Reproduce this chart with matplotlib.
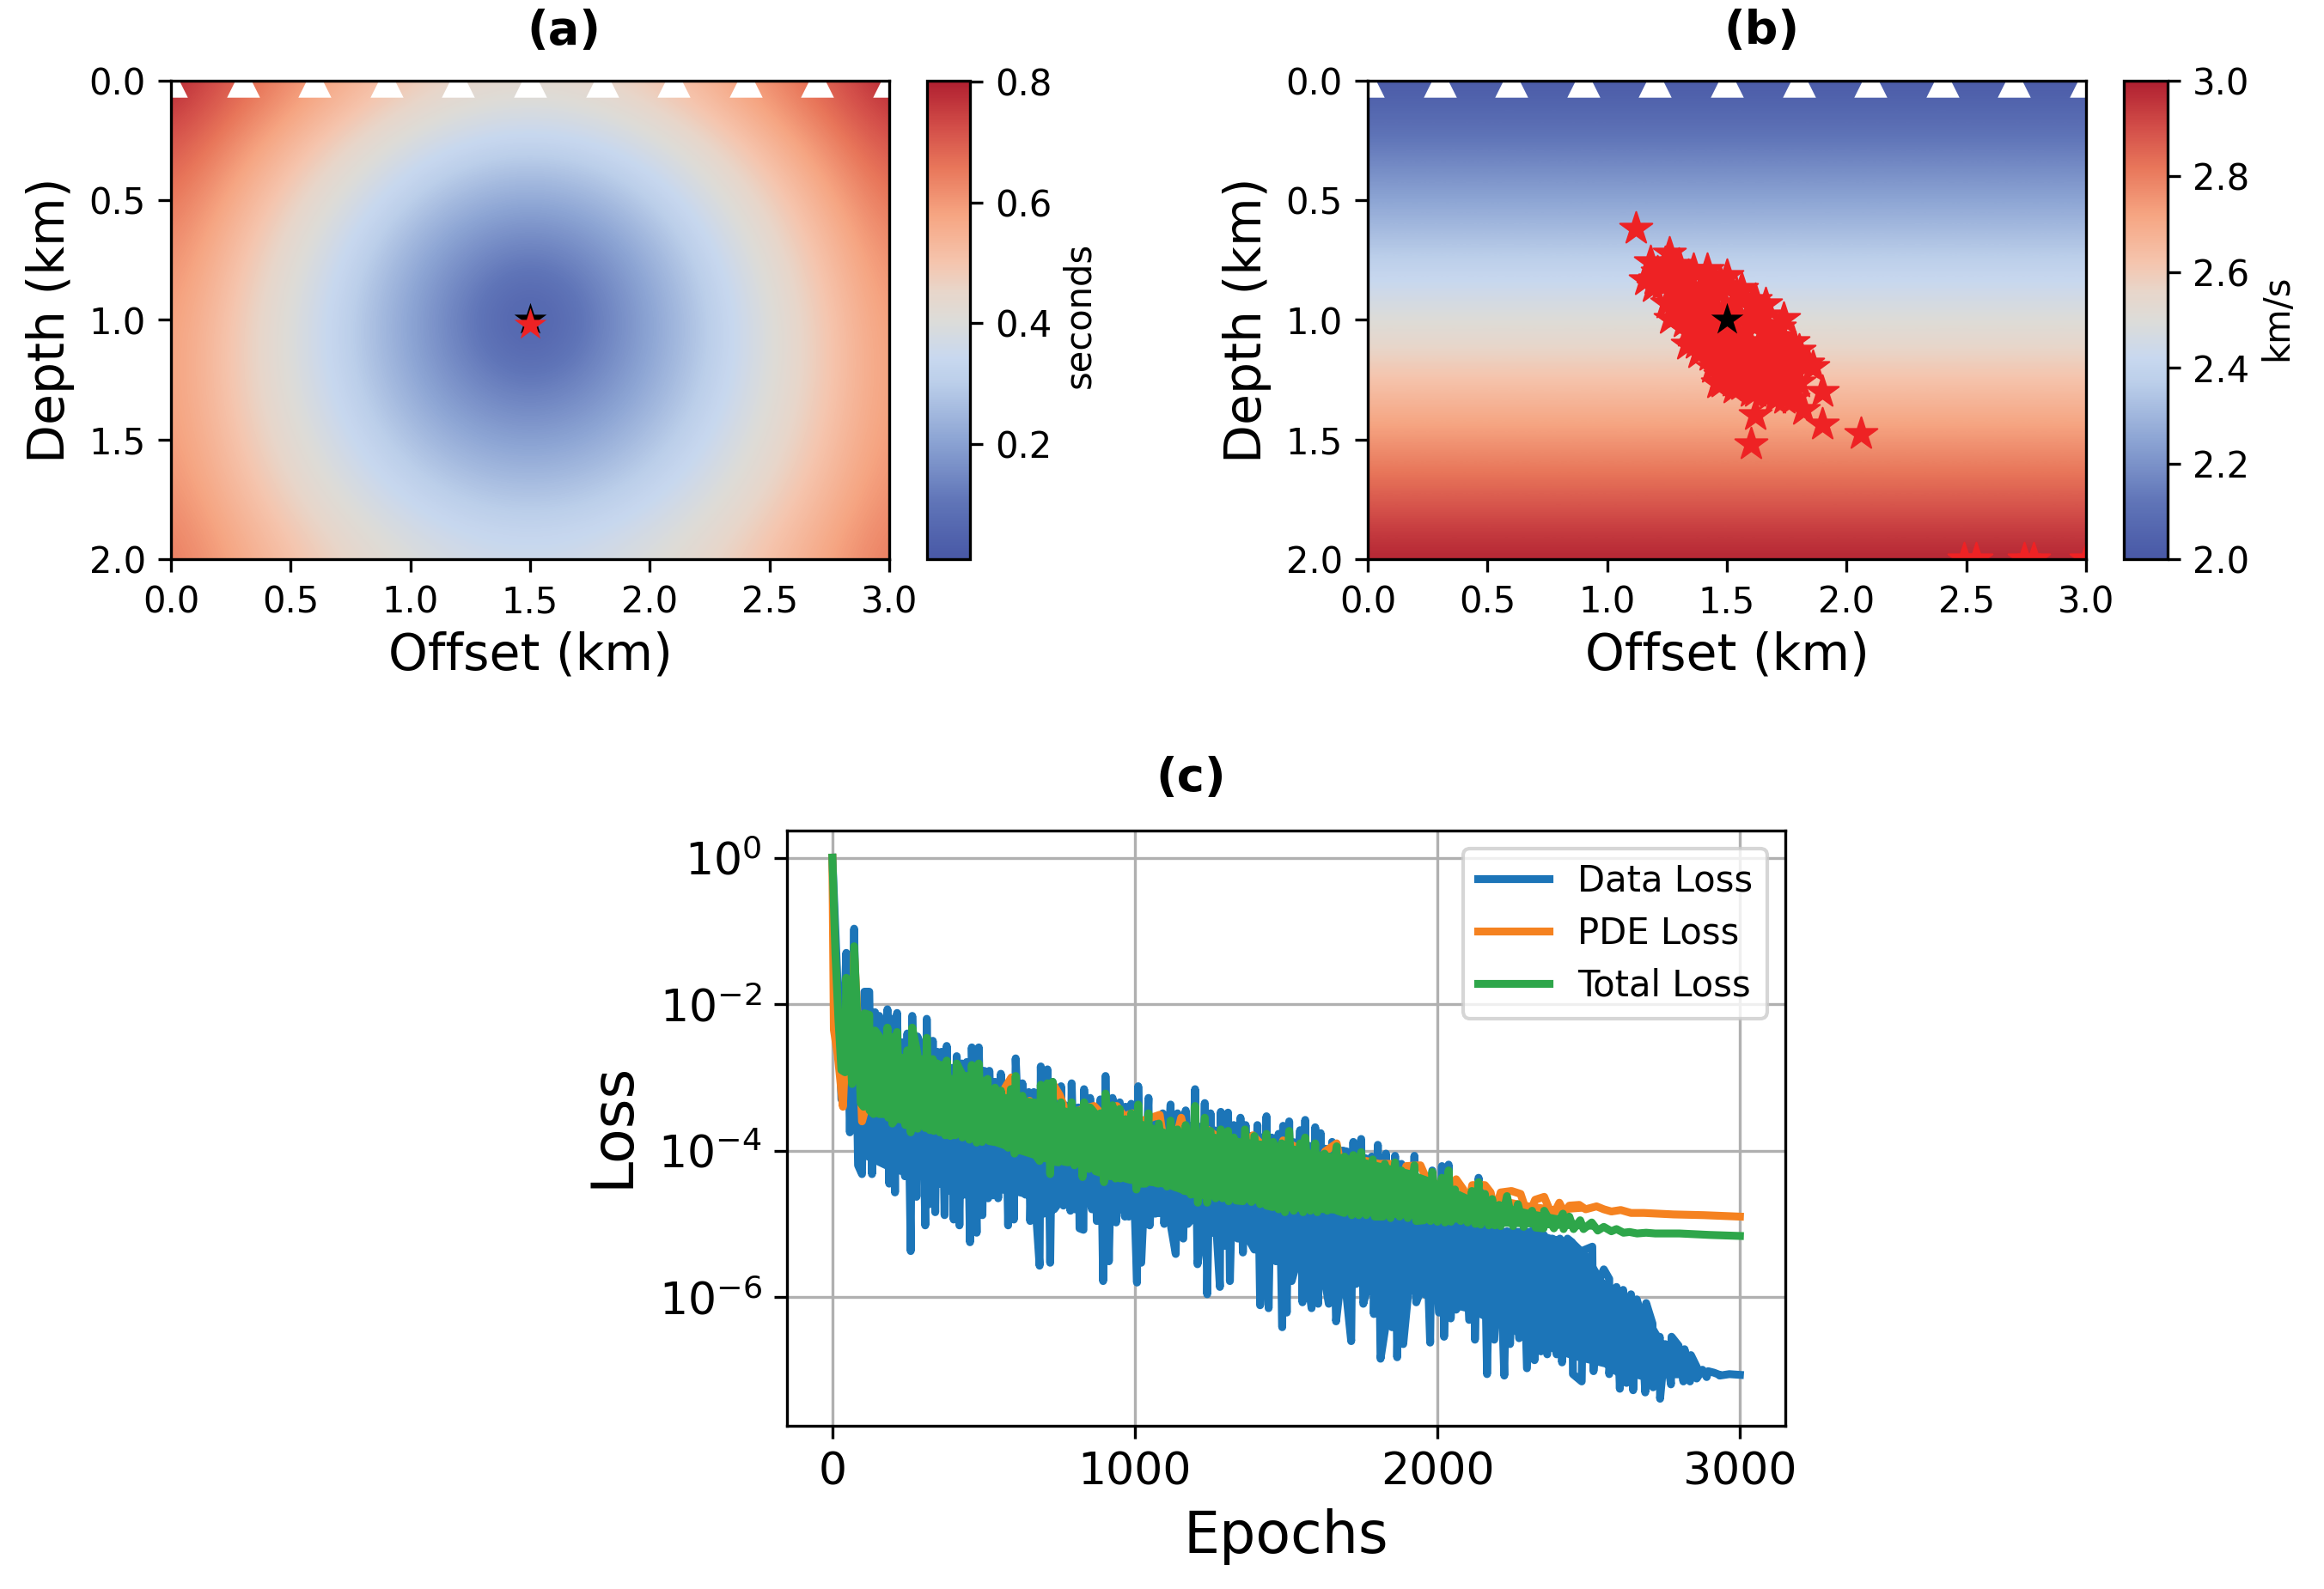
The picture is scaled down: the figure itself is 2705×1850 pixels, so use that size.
import numpy as np
import matplotlib
matplotlib.use('Agg')
import matplotlib.pyplot as plt
from matplotlib.colors import LinearSegmentedColormap

# travel time (s), left half of the model, z = 0 ... 2 km every 0.25 km
# columns are x = 0 ... 1.5 km every 0.25 km, right half mirrors it
traveltime_left = [
    [0.801, 0.712, 0.630, 0.557, 0.499, 0.460, 0.446],
    [0.724, 0.630, 0.540, 0.459, 0.390, 0.342, 0.324],
    [0.664, 0.566, 0.470, 0.380, 0.298, 0.236, 0.211],
    [0.622, 0.522, 0.423, 0.325, 0.229, 0.145, 0.103],
    [0.598, 0.499, 0.399, 0.300, 0.200, 0.100, 0.010],
    [0.592, 0.497, 0.402, 0.309, 0.218, 0.138, 0.098],
    [0.601, 0.512, 0.426, 0.344, 0.270, 0.213, 0.191],
    [0.623, 0.542, 0.465, 0.395, 0.336, 0.295, 0.280],
    [0.655, 0.583, 0.515, 0.455, 0.408, 0.376, 0.365],
]
# velocity (km/s) from panel b, same depth samples
velocity = [2.0, 2.125, 2.25, 2.375, 2.5, 2.625, 2.75, 2.875, 3.0]

receiver_x = [0.0, 0.3, 0.6, 0.9, 1.2, 1.5, 1.8, 2.1, 2.4, 2.7, 3.0]
receiver_z = [0.0] * 11

true_x = [1.5]
true_z = [1.0]
picked_a_x = [1.5]
picked_a_z = [1.018]

# inverted source locations in panel b
inverted_x = [
    1.12, 1.618, 1.599, 1.90, 2.059, 1.90, 1.818, 1.86,
    2.49, 2.54, 2.74, 2.78, 3.0,
    1.26, 1.18, 1.16, 1.24, 1.30, 1.36, 1.417, 1.50, 1.56, 1.618, 1.66, 1.738, 1.776, 1.80, 1.836,
    1.19, 1.262, 1.25, 1.334, 1.382, 1.459, 1.525, 1.597, 1.68, 1.776,
    1.25, 1.32, 1.40, 1.47, 1.53, 1.60, 1.66, 1.72, 1.75, 1.78, 1.80,
    1.27, 1.33, 1.40, 1.46, 1.52, 1.58, 1.64, 1.69, 1.72, 1.74,
    1.30, 1.36, 1.42, 1.48, 1.54, 1.60, 1.65, 1.68,
    1.34, 1.40, 1.46, 1.52, 1.57, 1.62,
    1.44, 1.50, 1.56, 1.48,
    1.23, 1.30, 1.365, 1.43, 1.49, 1.55, 1.61, 1.67, 1.71, 1.735, 1.76,
    1.28, 1.345, 1.41, 1.47, 1.53, 1.59, 1.645, 1.69, 1.71, 1.73,
    1.32, 1.38, 1.44, 1.50, 1.56, 1.61, 1.65, 1.66,
    1.37, 1.43, 1.49, 1.54, 1.60, 1.62,
    1.28, 1.34, 1.41, 1.47, 1.54, 1.60, 1.655, 1.72,
    1.21, 1.20, 1.27, 1.47, 1.53, 1.60, 1.70, 1.74, 1.76,
]
inverted_z = [
    0.618, 1.397, 1.518, 1.437, 1.476, 1.299, 1.377, 1.197,
    2.0, 2.0, 2.0, 2.0, 2.0,
    0.72, 0.757, 0.832, 0.76, 0.77, 0.79, 0.79, 0.814, 0.87, 0.916, 0.934, 0.994, 1.09, 1.126, 1.18,
    0.86, 0.994, 0.93, 1.102, 1.138, 1.263, 1.257, 1.275, 1.311, 1.33,
    0.82, 0.84, 0.86, 0.88, 0.93, 0.98, 1.02, 1.07, 1.14, 1.20, 1.26,
    0.88, 0.92, 0.95, 0.97, 1.02, 1.05, 1.09, 1.14, 1.20, 1.26,
    0.97, 1.00, 1.03, 1.07, 1.11, 1.15, 1.20, 1.26,
    1.05, 1.09, 1.13, 1.17, 1.21, 1.25,
    1.20, 1.22, 1.27, 1.26,
    0.85, 0.88, 0.905, 0.915, 0.95, 0.985, 1.02, 1.06, 1.12, 1.17, 1.23,
    0.93, 0.96, 0.99, 1.02, 1.065, 1.10, 1.145, 1.19, 1.25, 1.30,
    1.01, 1.05, 1.08, 1.12, 1.16, 1.20, 1.26, 1.30,
    1.10, 1.15, 1.18, 1.22, 1.25, 1.30,
    0.78, 0.815, 0.82, 0.84, 0.89, 0.94, 0.98, 1.03,
    0.80, 0.83, 0.83, 1.23, 1.285, 1.30, 1.33, 1.33, 1.31,
]

# loss curves, log10 values: spike tips and spike bottoms kept apart
data_top_ep = [0, 46, 72, 106, 122, 141, 155, 182, 198, 214, 231, 248, 264, 281, 297, 312, 332, 347, 361, 378,
               394, 411, 428, 444, 461, 484, 502, 519, 538, 557, 573, 590, 606, 628, 649, 666, 689, 711, 728, 756,
               770, 791, 813, 832, 852, 868, 886, 903, 926, 950, 969, 988, 1011, 1045, 1068, 1092, 1118, 1141, 1168, 1199,
               1231, 1250, 1284, 1308, 1327, 1349, 1366, 1405, 1435, 1452, 1475, 1490, 1510, 1546, 1563, 1596, 1614, 1652, 1688, 1722,
               1748, 1783, 1803, 1830, 1860, 1881, 1924, 1958, 1983, 2015, 2037, 2060, 2090, 2120, 2136, 2155, 2175, 2205, 2230, 2255,
               2283, 2310, 2330, 2352, 2380, 2405, 2430, 2445, 2483, 2512, 2535, 2550, 2568, 2592, 2614, 2640, 2659, 2673, 2690, 2711,
               2735, 2753, 2774, 2797, 2817, 2838, 2857, 2876, 2895, 2914, 2933, 2965, 3000]
data_top = [0.0, -1.30, -0.97, -1.83, -1.83, -2.11, -2.16, -2.07, -2.20, -2.12, -2.52, -2.40, -2.16, -2.44, -2.61, -2.20, -2.50, -2.65, -2.65, -2.57,
            -2.87, -2.71, -2.81, -2.79, -2.59, -2.59, -2.91, -2.91, -3.06, -2.95, -3.14, -3.02, -2.74, -3.08, -3.20, -3.20, -2.85, -2.89, -3.06, -3.12,
            -3.38, -3.08, -3.41, -3.16, -3.28, -3.41, -3.30, -2.98, -3.28, -3.34, -3.40, -3.36, -3.12, -3.28, -3.55, -3.49, -3.37, -3.49, -3.45, -3.16,
            -3.35, -3.49, -3.47, -3.48, -3.65, -3.55, -3.65, -3.65, -3.53, -3.82, -3.77, -3.66, -3.60, -3.72, -3.58, -3.68, -3.76, -3.88, -4.00, -3.88,
            -3.84, -4.08, -3.92, -4.04, -4.07, -4.18, -4.07, -4.40, -4.27, -4.21, -4.19, -4.70, -4.80, -4.85, -4.37, -4.90, -5.00, -5.05, -5.10, -5.10,
            -5.10, -5.10, -5.10, -5.15, -5.20, -5.20, -5.20, -5.25, -5.36, -5.31, -5.76, -5.62, -5.75, -5.86, -5.90, -5.96, -6.03, -6.23, -6.08, -6.36,
            -6.54, -6.64, -6.54, -6.66, -6.71, -6.79, -6.95, -6.99, -7.01, -7.03, -7.06, -7.05, -7.06]
data_low_ep = [15, 30, 58, 85, 98, 131, 150, 169, 188, 207, 223, 240, 259, 278, 307, 321, 340, 355, 371, 386,
               401, 420, 436, 455, 477, 496, 515, 531, 548, 562, 581, 600, 623, 638, 654, 670, 685, 699, 720, 733,
               742, 764, 787, 802, 817, 830, 846, 858, 874, 895, 914, 938, 967, 980, 1007, 1021, 1049, 1068, 1097, 1120,
               1135, 1160, 1175, 1187, 1207, 1221, 1239, 1258, 1270, 1281, 1296, 1314, 1329, 1340, 1357, 1375, 1395, 1414, 1425, 1442,
               1466, 1487, 1502, 1518, 1530, 1554, 1570, 1584, 1606, 1625, 1641, 1665, 1679, 1695, 1715, 1731, 1755, 1770, 1790, 1812,
               1828, 1840, 1850, 1867, 1887, 1906, 1915, 1930, 1945, 1976, 2005, 2022, 2044, 2062, 2081, 2105, 2124, 2164, 2188, 2221,
               2240, 2270, 2296, 2321, 2342, 2363, 2394, 2412, 2448, 2477, 2516, 2568, 2603, 2625, 2647, 2687, 2713, 2736, 2772, 2813,
               2835, 2857, 2890, 2933, 2950]
data_low = [-1.5, -3.3, -3.75, -4.2, -4.32, -4.32, -4.06, -4.16, -4.45, -4.57, -4.26, -4.35, -5.37, -4.63, -5.02, -4.73, -4.84, -4.45, -4.88, -4.55,
            -4.94, -5.02, -4.60, -5.25, -5.12, -4.88, -4.65, -4.61, -4.65, -4.38, -5.02, -4.94, -4.41, -4.60, -4.96, -4.65, -5.57, -4.86, -5.53, -4.80,
            -4.75, -4.75, -4.82, -4.80, -5.06, -5.08, -4.63, -4.80, -4.96, -5.78, -5.51, -4.98, -4.90, -4.90, -5.80, -5.53, -5.02, -4.86, -5.00, -5.05,
            -5.41, -5.20, -5.00, -4.94, -5.55, -5.15, -5.96, -5.12, -5.10, -5.86, -5.30, -5.78, -5.12, -5.20, -5.39, -5.20, -5.35, -6.11, -5.30, -6.15,
            -5.51, -6.41, -6.21, -5.78, -5.60, -6.07, -5.70, -6.15, -6.09, -5.70, -6.09, -6.33, -5.82, -5.80, -6.60, -5.82, -6.09, -5.85, -6.23, -6.84,
            -6.41, -5.90, -6.41, -6.82, -6.64, -5.84, -5.90, -6.07, -5.90, -6.62, -6.21, -6.54, -6.29, -6.17, -6.04, -6.31, -6.58, -7.05, -6.58, -7.07,
            -6.64, -6.56, -6.97, -6.86, -6.74, -6.78, -6.78, -6.89, -7.05, -7.15, -7.01, -7.05, -7.25, -7.17, -7.27, -7.30, -7.23, -7.386, -7.19, -7.15,
            -7.15, -7.11, -7.09, -7.07, -7.06]

pde_top_ep = [0, 50, 72, 150, 230, 320, 410, 500, 571, 592, 652, 728, 751, 775, 813, 865, 879, 940, 964, 992,
              1026, 1082, 1153, 1239, 1265, 1390, 1419, 1490, 1527, 1629, 1667, 1764, 1807, 1845, 1897, 1944, 1960, 2001, 2062, 2086,
              2115, 2157, 2176, 2209, 2245, 2275, 2323, 2353, 2403, 2436, 2469, 2526, 2550, 2606, 2682, 2780, 2880, 3000]
pde_top = [0.0, -2.0, -1.3, -2.8, -2.9, -2.95, -3.0, -3.05, -3.14, -3.00, -3.32, -3.08, -3.24, -3.49, -3.45, -3.39, -3.45, -3.39, -3.53, -3.49,
           -3.59, -3.51, -3.55, -3.71, -3.79, -3.79, -3.92, -3.86, -3.94, -4.01, -3.90, -4.14, -4.18, -4.18, -4.21, -4.20, -4.35, -4.47, -4.39, -4.53,
           -4.47, -4.47, -4.57, -4.57, -4.55, -4.59, -4.67, -4.63, -4.71, -4.75, -4.74, -4.76, -4.80, -4.81, -4.85, -4.87, -4.88, -4.90]
pde_low_ep = [5, 18, 35, 62, 90, 98, 190, 275, 365, 455, 535, 620, 690, 800, 900, 1000, 1110, 1200, 1330, 1455,
              1580, 1700, 1870, 2030, 2100, 2190, 2300, 2380, 2420, 2490, 2575, 2640]
pde_low = [-2.35, -2.7, -3.4, -3.0, -2.7, -3.6, -3.4, -3.5, -3.6, -3.65, -3.7, -3.8, -3.9, -4.0, -4.1, -4.2, -4.3, -4.4, -4.5, -4.55,
           -4.6, -4.65, -4.7, -4.75, -4.8, -4.85, -4.9, -4.9, -4.85, -4.80, -4.83, -4.85]

total_top_ep = [0, 46, 72, 106, 122, 141, 155, 182, 198, 214, 231, 248, 264, 281, 297, 312, 332, 347, 361, 378,
                394, 411, 428, 444, 461, 484, 502, 513, 538, 557, 590, 606, 628, 649, 666, 689, 711, 728, 756, 791,
                813, 832, 852, 868, 886, 903, 926, 950, 969, 988, 1011, 1045, 1079, 1118, 1141, 1168, 1199, 1231, 1250, 1284,
                1308, 1327, 1364, 1395, 1435, 1457, 1485, 1510, 1546, 1563, 1596, 1627, 1667, 1693, 1722, 1748, 1786, 1826, 1860, 1881,
                1924, 1958, 1983, 2015, 2037, 2058, 2088, 2114, 2136, 2157, 2181, 2204, 2230, 2266, 2313, 2353, 2415, 2436, 2472, 2510,
                2550, 2592, 2635, 2690, 2800, 2900, 3000]
total_top = [0.0, -1.64, -1.21, -2.125, -2.145, -2.36, -2.44, -2.32, -2.45, -2.38, -2.73, -2.63, -2.32, -2.67, -2.75, -2.46, -2.75, -2.81, -2.83, -2.77,
             -3.02, -2.81, -2.95, -2.98, -2.83, -2.81, -3.06, -3.02, -3.14, -3.18, -3.16, -2.98, -3.25, -3.38, -3.38, -3.10, -3.08, -3.06, -3.34, -3.34,
             -3.45, -3.34, -3.41, -3.49, -3.49, -3.22, -3.38, -3.43, -3.57, -3.49, -3.37, -3.49, -3.63, -3.59, -3.71, -3.65, -3.39, -3.55, -3.73, -3.71,
             -3.73, -3.82, -3.71, -3.80, -3.77, -3.88, -3.90, -3.73, -3.90, -3.82, -3.90, -4.04, -3.94, -4.08, -4.06, -4.02, -4.12, -4.18, -4.16, -4.27,
             -4.20, -4.51, -4.29, -4.37, -4.27, -4.53, -4.64, -4.55, -4.43, -4.59, -4.66, -4.74, -4.62, -4.73, -4.82, -4.82, -4.86, -4.90, -4.95, -4.98,
             -5.04, -5.07, -5.11, -5.12, -5.13, -5.15, -5.164]
total_low_ep = [10, 20, 30, 42, 65, 94, 103, 123, 136, 155, 169, 185, 198, 212, 223, 241, 259, 282, 307, 322,
                335, 355, 373, 390, 406, 430, 453, 477, 495, 519, 535, 552, 567, 581, 602, 614, 628, 643, 657, 670,
                685, 702, 720, 733, 747, 765, 780, 800, 827, 848, 870, 885, 898, 918, 936, 952, 969, 987, 1005, 1022,
                1035, 1049, 1077, 1106, 1135, 1163, 1185, 1208, 1239, 1267, 1290, 1310, 1335, 1357, 1385, 1414, 1435, 1456, 1475, 1496,
                1525, 1556, 1580, 1603, 1636, 1669, 1692, 1717, 1740, 1765, 1793, 1820, 1845, 1875, 1902, 1930, 1955, 1977, 2000, 2025,
                2045, 2077, 2100, 2125, 2143, 2170, 2190, 2209, 2250, 2285, 2325, 2351, 2385, 2417, 2450, 2483, 2530, 2575, 2615, 2660,
                2720]
total_low = [-1.3, -2.2, -2.9, -2.93, -3.09, -3.35, -3.40, -3.45, -3.50, -3.50, -3.50, -3.55, -3.63, -3.55, -3.55, -3.65, -3.75, -3.70, -3.69, -3.72,
             -3.73, -3.75, -3.79, -3.80, -3.79, -3.82, -3.85, -3.89, -3.88, -3.87, -3.88, -3.87, -3.90, -3.96, -4.04, -4.00, -4.00, -4.00, -4.02, -4.05,
             -4.14, -4.10, -4.32, -4.15, -4.16, -4.15, -4.16, -4.20, -4.36, -4.25, -4.28, -4.30, -4.43, -4.35, -4.38, -4.38, -4.38, -4.40, -4.53, -4.45,
             -4.45, -4.41, -4.45, -4.49, -4.50, -4.55, -4.60, -4.71, -4.71, -4.65, -4.65, -4.69, -4.68, -4.69, -4.70, -4.73, -4.75, -4.77, -4.80, -4.84,
             -4.82, -4.84, -4.82, -4.84, -4.82, -4.82, -4.85, -4.88, -4.88, -4.88, -4.90, -4.90, -4.92, -4.90, -4.92, -4.96, -4.95, -4.96, -4.97, -4.98,
             -4.97, -4.96, -4.98, -5.00, -5.01, -5.02, -5.02, -5.03, -5.03, -5.04, -5.05, -5.06, -5.06, -5.07, -5.07, -5.07, -5.09, -5.10, -5.12, -5.13,
             -5.13]

# solid part of each dense curve, where the spikes run together
data_band_ep = [100, 200, 300, 400, 500, 600, 700, 800, 900, 1000, 1100, 1200, 1300, 1400, 1500, 1600, 1700, 1800, 1900, 2000,
                2100, 2200, 2300, 2380, 2450, 2500, 2550, 2600, 2650, 2700, 2750, 2800, 2850, 2900, 2950]
data_band_hi = [-2.3, -2.5, -2.75, -2.95, -3.1, -3.2, -3.25, -3.4, -3.45, -3.5, -3.6, -3.6, -3.7, -3.75, -3.8, -3.9, -3.95, -4.1, -4.2, -4.5,
                -4.95, -5.05, -5.05, -5.15, -5.2, -5.4, -5.75, -5.88, -6.0, -6.25, -6.6, -6.68, -6.9, -7.0, -7.05]
data_band_lo = [-4.1, -4.3, -4.4, -4.5, -4.55, -4.6, -4.7, -4.75, -4.8, -4.9, -4.9, -5.0, -5.1, -5.2, -5.4, -5.6, -5.7, -5.8, -5.9, -6.1,
                -6.2, -6.4, -6.6, -6.75, -6.85, -6.9, -6.95, -7.1, -7.1, -7.15, -7.1, -7.1, -7.08, -7.06, -7.06]
pde_band_ep = [2000, 2100, 2200, 2300, 2400, 2500]
pde_band_hi = [-4.55, -4.55, -4.62, -4.7, -4.76, -4.78]
pde_band_lo = [-4.9, -4.9, -4.9, -4.9, -4.85, -4.82]
total_band_ep = [100, 200, 300, 400, 500, 600, 700, 800, 900, 1000, 1100, 1200, 1300, 1400, 1500, 1600, 1700, 1800, 1900, 2000,
                 2100, 2200, 2300, 2400, 2500, 2600, 2700]
total_band_hi = [-2.4, -2.6, -2.85, -3.0, -3.15, -3.25, -3.3, -3.45, -3.5, -3.55, -3.7, -3.7, -3.8, -3.85, -3.9, -4.0, -4.05, -4.15, -4.25, -4.4,
                 -4.6, -4.7, -4.8, -4.88, -5.0, -5.07, -5.12]
total_band_lo = [-3.42, -3.6, -3.7, -3.8, -3.88, -4.02, -4.15, -4.2, -4.35, -4.45, -4.5, -4.65, -4.67, -4.72, -4.82, -4.84, -4.86, -4.9, -4.92, -4.97,
                 -4.98, -5.03, -5.04, -5.06, -5.07, -5.1, -5.13]

FIG_W = 2705
FIG_H = 1850
RED = '#EE2224'
BLUE = '#1C75B8'
ORANGE = '#F58220'
GREEN = '#2EA64A'


def px_axes(fig, left, top, right, bottom):
    # axes placed from pixel edges of the image
    return fig.add_axes([left / FIG_W, 1 - bottom / FIG_H, (right - left) / FIG_W, (bottom - top) / FIG_H])


def merged(top_ep, top, low_ep, low):
    # tips and bottoms back into one curve, in epoch order
    ep = np.array(top_ep + low_ep)
    val = np.array(top + low)
    order = np.argsort(ep, kind='stable')
    return ep[order], 10.0 ** val[order]


def band(ax, ep, hi, lo, color, zorder):
    ax.fill_between(ep, 10.0 ** np.array(lo), 10.0 ** np.array(hi), color=color, linewidth=0, zorder=zorder)


def field_panel(fig, field, vmin, vmax, edges, cbar_edges, ticks, cbar_label, label_y, cmap):
    ax = px_axes(fig, *edges)
    im = ax.imshow(field, cmap=cmap, vmin=vmin, vmax=vmax, aspect='auto', interpolation='bicubic',
                   extent=[-0.125 if field.shape[1] > 1 else 0, 3.125 if field.shape[1] > 1 else 3, 2.125, -0.125])
    ax.scatter(receiver_x, receiver_z, marker='^', s=85, color='white', linewidths=0)
    ax.set_xlim(0, 3)
    ax.set_ylim(2, 0)
    ax.set_xticks([0, 0.5, 1, 1.5, 2, 2.5, 3])
    ax.set_yticks([0, 0.5, 1, 1.5, 2])
    ax.tick_params(labelsize=10)
    ax.set_xlabel('Offset (km)', fontsize=14, labelpad=3)
    ax.set_ylabel('Depth (km)', fontsize=14)
    cax = px_axes(fig, *cbar_edges)
    cb = fig.colorbar(im, cax=cax)
    cb.set_ticks(ticks)
    cb.ax.tick_params(labelsize=10)
    cb.set_label(cbar_label, fontsize=10, y=label_y, labelpad=2.5)
    return ax


def main():
    plt.rcParams['font.family'] = ['DejaVu Sans']
    # coolwarm as it appears in the printed figure
    cmap = LinearSegmentedColormap.from_list('print_coolwarm', [
        (0.00, '#4858A6'), (0.12, '#6075B8'), (0.25, '#8DA5D4'), (0.37, '#BCCFEA'), (0.42, '#C8D8EF'),
        (0.50, '#DDDCD8'), (0.56, '#E8D6CA'), (0.62, '#F5C5AE'), (0.72, '#F6A582'), (0.82, '#E8765A'),
        (0.90, '#D4504A'), (1.00, '#B01F30')])

    fig = plt.figure(figsize=(FIG_W / 300, FIG_H / 300), dpi=300)

    left = np.array(traveltime_left)
    tt = np.hstack([left, left[:, -2::-1]])
    ax = field_panel(fig, tt, 0.01, 0.801, (199, 94, 1035, 651), (1079, 94, 1129, 651),
                     [0.2, 0.4, 0.6, 0.8], 'seconds', 0.51, cmap)
    ax.scatter(true_x, true_z, marker='*', s=90, color='black', linewidths=0)
    ax.scatter(picked_a_x, picked_a_z, marker='*', s=90, color=RED, linewidths=0)

    vel = np.array(velocity).reshape(-1, 1)
    ax = field_panel(fig, vel, 2.0, 3.0, (1592, 94, 2428, 651), (2472, 94, 2523, 651),
                     [2.0, 2.2, 2.4, 2.6, 2.8, 3.0], 'km/s', 0.505, cmap)
    # thin edge closes the specks left between overlapping stars
    ax.scatter(inverted_x, inverted_z, marker='*', s=90, color=RED, edgecolors=RED, linewidths=0.5)
    ax.scatter(true_x, true_z, marker='*', s=90, color='black', linewidths=0)

    ax = px_axes(fig, 916, 967, 2078, 1660)
    band(ax, data_band_ep, data_band_hi, data_band_lo, BLUE, 2)
    ax.semilogy(*merged(data_top_ep, data_top, data_low_ep, data_low), color=BLUE, lw=2.2, label='Data Loss', zorder=2)
    band(ax, pde_band_ep, pde_band_hi, pde_band_lo, ORANGE, 2.1)
    ax.semilogy(*merged(pde_top_ep, pde_top, pde_low_ep, pde_low), color=ORANGE, lw=2.2, label='PDE Loss', zorder=2.1)
    band(ax, total_band_ep, total_band_hi, total_band_lo, GREEN, 2.2)
    ax.semilogy(*merged(total_top_ep, total_top, total_low_ep, total_low), color=GREEN, lw=2.2, label='Total Loss', zorder=2.2)
    ax.set_yticks([1, 1e-2, 1e-4, 1e-6])
    ax.minorticks_off()
    ax.set_xticks([0, 1000, 2000, 3000])
    ax.tick_params(labelsize=12.5)
    ax.set_xlabel('Epochs', fontsize=16)
    ax.set_ylabel('Loss', fontsize=16, y=0.505, labelpad=5)
    ax.grid(True)
    ax.legend(fontsize=10, loc='upper right', labelspacing=0.46)

    # panel letters sit over the panel plus its colour bar
    fig.text(656 / FIG_W, 1 - 36 / FIG_H, '(a)', fontsize=13, fontweight='bold', ha='center', va='center')
    fig.text(2050 / FIG_W, 1 - 36 / FIG_H, '(b)', fontsize=13, fontweight='bold', ha='center', va='center')
    fig.text(1386 / FIG_W, 1 - 906 / FIG_H, '(c)', fontsize=13, fontweight='bold', ha='center', va='center')

    fig.savefig('out.png', dpi=300)


if __name__ == "__main__":
    main()
